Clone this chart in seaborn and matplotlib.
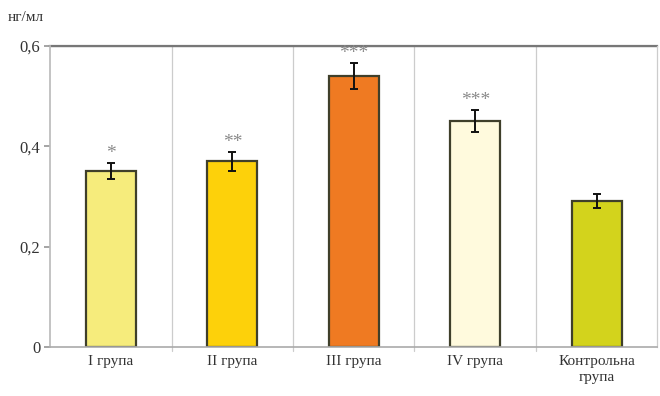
import matplotlib
matplotlib.use("Agg")
import matplotlib.pyplot as plt
import seaborn as sns
import pandas as pd

groups = ["I група", "II група", "III група", "IV група", "Контрольна\nгрупа"]
values = [0.35, 0.37, 0.54, 0.45, 0.29]
errors = [0.016, 0.019, 0.025, 0.022, 0.014]
marks = ["*", "**", "***", "***", ""]
colors = ["#F6EC7C", "#FDD10A", "#EF7A22", "#FFFADD", "#D3D31C"]
yticks = [0, 0.2, 0.4, 0.6]
ytick_labels = ["0", "0,2", "0,4", "0,6"]

sns.set_theme(style="white")
plt.rcParams["font.family"] = ["Liberation Serif", "DejaVu Serif"]

df = pd.DataFrame({"group": groups, "value": values})

fig = plt.figure(figsize=(6.6, 3.96), dpi=100)
ax = fig.add_axes([0.076, 0.124, 0.92, 0.76])

sns.barplot(data=df, x="group", y="value", hue="group", palette=colors,
            saturation=1, width=0.41, edgecolor="#3f3f2a", linewidth=1.6,
            legend=False, ax=ax)

ax.errorbar(range(len(groups)), values, yerr=errors, fmt="none",
            ecolor="#111111", elinewidth=1.4, capsize=3, capthick=1.4, zorder=5)

for i, (v, e, m) in enumerate(zip(values, errors, marks)):
    if m:
        ax.text(i, v + e + 0.002, m, ha="center", va="bottom",
                fontsize=14, color="#8a8a8a", zorder=10, clip_on=False)

ax.set_ylim(0, 0.6)
ax.set_xlim(-0.5, len(groups) - 0.5)
ax.set_yticks(yticks)
ax.set_yticklabels(ytick_labels, fontsize=12, color="#333333")
ax.set_xlabel("")
ax.set_ylabel("")
ax.tick_params(axis="x", labelsize=11, colors="#333333", length=0, pad=6)
ax.tick_params(axis="y", length=4, color="#999999", left=True, pad=3)
for lbl in ax.get_xticklabels():
    lbl.set_linespacing(1.25)

# category separators
for b in [i + 0.5 for i in range(len(groups) - 1)]:
    ax.axvline(b, color="#cccccc", linewidth=0.9, zorder=0, ymin=-0.015, clip_on=False)

ax.axhline(0.6, color="#777777", linewidth=1.6, zorder=1)
for side in ["top", "right"]:
    ax.spines[side].set_visible(True)
ax.spines["top"].set_color("#777777")
ax.spines["top"].set_linewidth(1.6)
ax.spines["top"].set_zorder(1)
ax.spines["right"].set_color("#cccccc")
ax.spines["right"].set_linewidth(0.9)
ax.spines["left"].set_color("#bbbbbb")
ax.spines["bottom"].set_color("#aaaaaa")
ax.spines["bottom"].set_linewidth(1.2)

fig.text(0.012, 0.955, "нг/мл", fontsize=11, color="#333333", ha="left", va="center")

fig.savefig("out.png", dpi=100, facecolor="white")
